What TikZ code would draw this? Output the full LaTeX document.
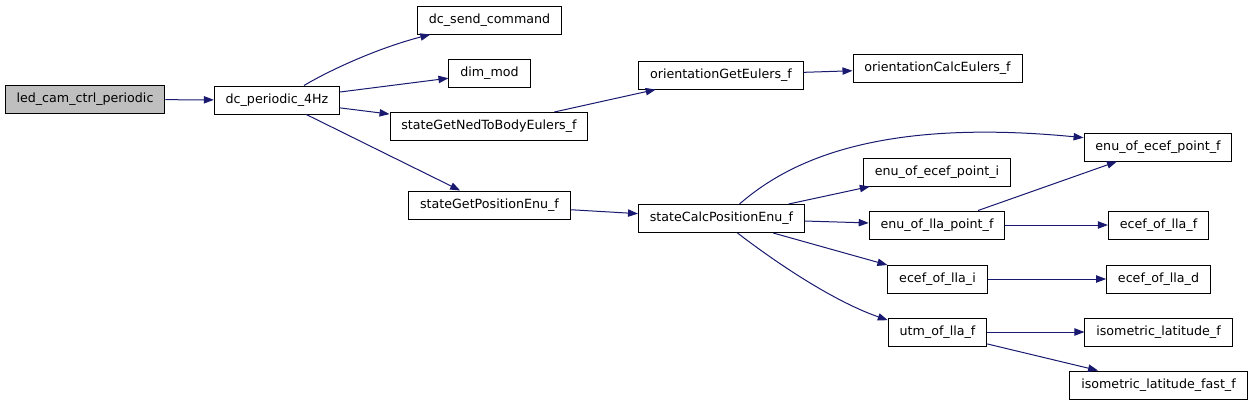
\documentclass[tikz,border=0pt]{standalone}
\usepackage{fontspec}
\setmainfont{DejaVu Sans}
\usetikzlibrary{arrows.meta}
\definecolor{edgeblue}{RGB}{25,25,112}
\definecolor{rootgray}{RGB}{191,191,191}
\tikzset{
  fn/.style={draw, fill=white, line width=0.75pt, inner xsep=8.5pt, minimum height=21pt, font=\fontsize{9.5}{11}\selectfont},
  rootfn/.style={fn, fill=rootgray},
  call/.style={edgeblue, line width=0.75pt, -{Triangle[length=7.5pt,width=5.5pt]}}
}
\begin{document}
\begin{tikzpicture}[x=0.75pt,y=-0.75pt]
	\useasboundingbox (0,0) rectangle (1253,405);
	% functions
	\node[rootfn] (led) at (85,99.5){led\_cam\_ctrl\_periodic};
	\node[fn] (dc4) at (277,100){dc\_periodic\_4Hz};
	\node[fn] (send) at (489.5,20){dc\_send\_command};
	\node[fn] (dim) at (489.5,73){dim\_mod};
	\node[fn] (ned) at (489,126.5){stateGetNedToBodyEulers\_f};
	\node[fn] (getpos) at (489.5,205){stateGetPositionEnu\_f};
	\node[fn] (origet) at (721,75){orientationGetEulers\_f};
	\node[fn] (oricalc) at (937.5,68){orientationCalcEulers\_f};
	\node[fn] (calcpos) at (721.5,218.5){stateCalcPositionEnu\_f};
	\node[fn] (enuei) at (937,172){enu\_of\_ecef\_point\_i};
	\node[fn] (enulla) at (937,225){enu\_of\_lla\_point\_f};
	\node[fn] (ecefi) at (937.5,279){ecef\_of\_lla\_i};
	\node[fn] (utm) at (937.5,332){utm\_of\_lla\_f};
	\node[fn] (enuef) at (1158,147){enu\_of\_ecef\_point\_f};
	\node[fn] (eceff) at (1158.5,225){ecef\_of\_lla\_f};
	\node[fn] (ecefd) at (1158.5,279){ecef\_of\_lla\_d};
	\node[fn] (iso) at (1158.5,332){isometric\_latitude\_f};
	\node[fn] (isofast) at (1158.5,385){isometric\_latitude\_fast\_f};
	
	% calls
	\draw[call] (led) -- (dc4);
	\draw[call] (dc4.north)+(27,0) .. controls (330,70) and (378,48) .. ([xshift=10pt]send.south west);
	\draw[call] (dc4) -- (dim);
	\draw[call] (dc4) -- (ned);
	\draw[call] (dc4) -- (getpos);
	\draw[call] (ned) -- (origet);
	\draw[call] (origet) -- (oricalc);
	\draw[call] (getpos) -- (calcpos);
	\draw[call] (calcpos.north)+(18,0) .. controls (790,160) and (880,118) .. ([yshift=7pt]enuef.west);
	\draw[call] (calcpos) -- (enuei);
	\draw[call] (calcpos) -- (enulla);
	\draw[call] (calcpos) -- (ecefi);
	\draw[call] (calcpos.south)+(16,0) .. controls (770,258) and (830,300) .. ([yshift=-2pt]utm.north west);
	\draw[call] (enulla) -- (enuef);
	\draw[call] (enulla) -- (eceff);
	\draw[call] (ecefi) -- (ecefd);
	\draw[call] (utm) -- (iso);
	\draw[call] (utm) -- (isofast);
\end{tikzpicture}
\end{document}
